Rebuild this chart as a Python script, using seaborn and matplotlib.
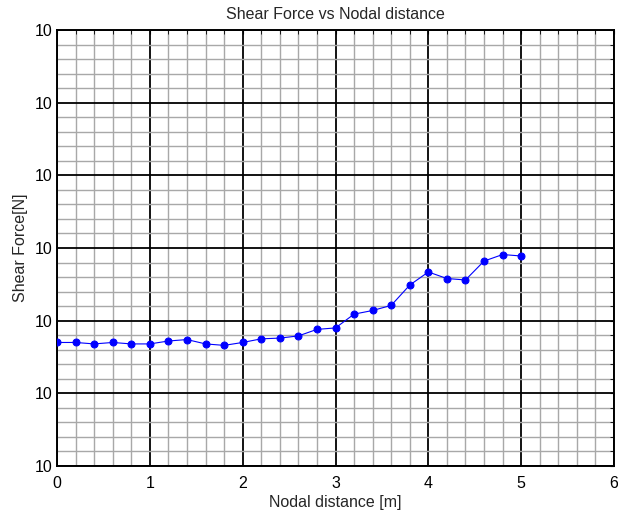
import matplotlib
matplotlib.use("Agg")
import matplotlib.pyplot as plt
from matplotlib.ticker import MultipleLocator
import seaborn as sns
import pandas as pd

# nodal positions [m]
nodal_distance = [0.0, 0.2, 0.4, 0.6, 0.8, 1.0, 1.2, 1.4, 1.6, 1.8, 2.0, 2.2, 2.4,
                  2.6, 2.8, 3.0, 3.2, 3.4, 3.6, 3.8, 4.0, 4.2, 4.4, 4.6, 4.8, 5.0]
# shear force, read in axis units (one unit per labelled "10" gridline)
shear_force = [1.70, 1.70, 1.68, 1.70, 1.68, 1.68, 1.72, 1.74, 1.68, 1.66, 1.70, 1.75, 1.76,
               1.79, 1.88, 1.90, 2.09, 2.14, 2.21, 2.49, 2.67, 2.58, 2.56, 2.82, 2.91, 2.89]
y_tick_labels = ["10"] * 7

df = pd.DataFrame({"x": nodal_distance, "y": shear_force})

sns.set_style("white")
plt.rcParams["font.family"] = ["Liberation Sans", "DejaVu Sans"]

fig = plt.figure(figsize=(6.18, 5.19), dpi=100)
ax = fig.add_axes([57 / 618, 53 / 519, 557 / 618, 436 / 519])

sns.lineplot(data=df, x="x", y="y", ax=ax, color="blue", linewidth=0.8,
             marker="o", markersize=5, markeredgecolor="blue", zorder=5)

ax.set_xlim(0, 6)
ax.set_ylim(0, 6)
ax.xaxis.set_major_locator(MultipleLocator(1))
ax.xaxis.set_minor_locator(MultipleLocator(0.2))
ax.yaxis.set_major_locator(MultipleLocator(1))
ax.yaxis.set_minor_locator(MultipleLocator(0.2))
ax.set_yticks(range(7))
ax.set_yticklabels(y_tick_labels)

ax.grid(which="minor", color="#a8a8a8", linewidth=1.0)
ax.grid(which="major", color="black", linewidth=1.3)
ax.set_axisbelow(True)

for s in ax.spines.values():
    s.set_color("black")
    s.set_linewidth(1.4)

ax.tick_params(which="both", direction="in", length=3, labelsize=11.5, colors="black",
               top=True, right=True)
ax.tick_params(axis="x", pad=7)
ax.tick_params(axis="y", pad=3)

ax.set_title("Shear Force vs Nodal distance", fontsize=11.5, pad=8)
ax.set_xlabel("Nodal distance [m]", fontsize=11.5, labelpad=3)
ax.set_ylabel("Shear Force[N]", fontsize=11.5, labelpad=5)

fig.savefig("out.png", dpi=100)
